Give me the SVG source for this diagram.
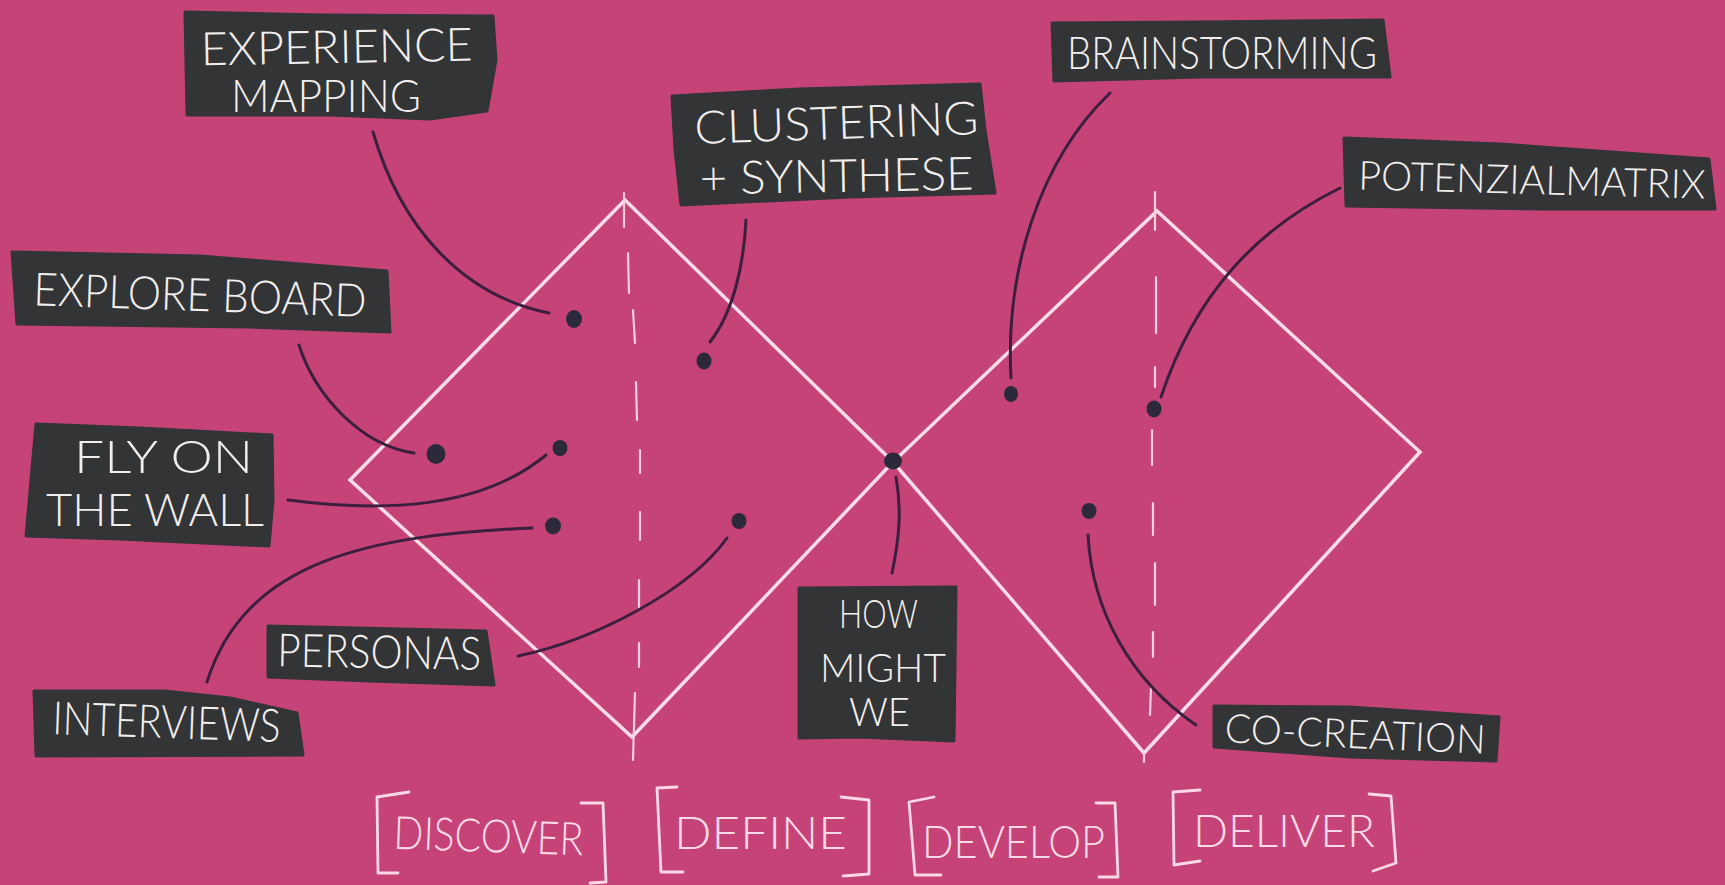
<svg xmlns="http://www.w3.org/2000/svg" width="1725" height="885" viewBox="0 0 1725 885">
<style>
.box{fill:#323435;stroke:#323435;stroke-width:3;stroke-linejoin:round}
.lbl{font-family:"Lato","Liberation Sans",sans-serif;font-weight:300;fill:#f2eeee;font-size:46px}
.sm{font-size:40px}
.ph{font-family:"Lato","Liberation Sans",sans-serif;font-weight:300;fill:#fbdbe7;font-size:46px}
.dia{fill:none;stroke:#fbdce8;stroke-width:3.5;stroke-linejoin:miter}
.dash{fill:none;stroke:#f8cfe0;stroke-width:2.2;stroke-linecap:round}
.brk{fill:none;stroke:#fbd8e5;stroke-width:2.8;stroke-linejoin:round;stroke-linecap:round}
.con{fill:none;stroke:#3c1f3e;stroke-width:3;stroke-linecap:round}
.dot{fill:#2c2a3a}
</style>
<rect width="1725" height="885" fill="#c64377"/>
<g id="diamonds">
<path class="dia" d="M625 200L893 462L632 737L350 480Z"/>
<path class="dia" d="M1157 211L1420 452L1144 753L893 462Z"/>
<path class="dash" d="M624 193V227M628 253L629 293M633 310L635 343M636 382L637 420M640 450V473M640 512V540M639 580V610M639 643V667M635 693L633 760"/>
<path class="dash" d="M1155 192V230M1156 277V333M1155 367V387M1152 430V465M1153 503V535M1155 563V605M1153 632V657M1151 687L1150 715M1144 753V762"/>
</g>
<g id="connectors">
<path class="con" d="M373 132C400 225 460 295 549 313"/>
<path class="con" d="M746 220C744 260 735 310 710 342"/>
<path class="con" d="M299 345C315 395 360 445 414 453"/>
<path class="con" d="M288 500C380 512 480 510 546 455"/>
<path class="con" d="M207 682C245 560 370 535 532 528"/>
<path class="con" d="M518 656C595 640 690 590 727 538"/>
<path class="con" d="M892 573C899 540 902 510 896 477"/>
<path class="con" d="M1110 93C1040 160 1005 270 1011 378"/>
<path class="con" d="M1340 188C1255 230 1195 295 1161 397"/>
<path class="con" d="M1088 535C1092 610 1130 680 1196 725"/>
</g>
<g id="dots">
<ellipse class="dot" cx="574" cy="319" rx="8" ry="9"/>
<ellipse class="dot" cx="704" cy="361" rx="7.5" ry="8.5"/>
<ellipse class="dot" cx="436" cy="454" rx="9.5" ry="10"/>
<ellipse class="dot" cx="560" cy="448" rx="7.5" ry="8"/>
<ellipse class="dot" cx="553" cy="526" rx="8" ry="8.5"/>
<ellipse class="dot" cx="739" cy="521" rx="7.5" ry="8"/>
<ellipse class="dot" cx="893" cy="461" rx="9" ry="8.5"/>
<ellipse class="dot" cx="1011" cy="394" rx="7" ry="8"/>
<ellipse class="dot" cx="1154" cy="409" rx="7.5" ry="8.5"/>
<ellipse class="dot" cx="1089" cy="511" rx="7.5" ry="8"/>
</g>
<g id="experience-mapping">
<path class="box" d="M185 12L320 15L493 16L496 60L487 111L430 119L330 115L187 115Z"/>
<text class="lbl" transform="rotate(-1 337 63)" x="201" y="63" textLength="272" lengthAdjust="spacingAndGlyphs">EXPERIENCE</text>
<text class="lbl" x="231" y="112" textLength="190" lengthAdjust="spacingAndGlyphs">MAPPING</text>
</g>
<g id="clustering-synthese">
<path class="box" d="M672 96L800 89L980 84L985 130L995 193L850 197L681 205L675 150Z"/>
<text class="lbl" transform="rotate(-2 837 139)" x="695" y="139" textLength="284" lengthAdjust="spacingAndGlyphs">CLUSTERING</text>
<text class="lbl" transform="rotate(-1 837 192)" x="700" y="192" textLength="274" lengthAdjust="spacingAndGlyphs">+ SYNTHESE</text>
</g>
<g id="explore-board">
<path class="box" d="M12 252L200 256L387 271L390 332L250 327L17 324Z"/>
<text class="lbl" transform="rotate(2 200 311)" x="33" y="311" textLength="333" lengthAdjust="spacingAndGlyphs">EXPLORE BOARD</text>
</g>
<g id="fly-on-the-wall">
<path class="box" d="M36 424L140 428L272 435L273 500L269 546L120 539L26 536L31 480Z"/>
<text class="lbl" x="74" y="473" textLength="179" lengthAdjust="spacingAndGlyphs">FLY ON</text>
<text class="lbl" x="46" y="526" textLength="218" lengthAdjust="spacingAndGlyphs">THE WALL</text>
</g>
<g id="interviews">
<path class="box" d="M34 691L165 691L230 698L297 713L303 755L36 756Z"/>
<text class="lbl" transform="rotate(2 166 738)" x="52" y="738" textLength="228" lengthAdjust="spacingAndGlyphs">INTERVIEWS</text>
</g>
<g id="personas">
<path class="box" d="M268 626L400 629L486 631L494 685L370 681L268 677Z"/>
<text class="lbl" transform="rotate(1 379 668)" x="277" y="668" textLength="204" lengthAdjust="spacingAndGlyphs">PERSONAS</text>
</g>
<g id="how-might-we">
<path class="box" d="M799 588L956 587L954 741L860 737L799 738Z"/>
<text class="lbl sm" x="839" y="628" textLength="79" lengthAdjust="spacingAndGlyphs">HOW</text>
<text class="lbl sm" x="820" y="682" textLength="126" lengthAdjust="spacingAndGlyphs">MIGHT</text>
<text class="lbl sm" x="849" y="726" textLength="61" lengthAdjust="spacingAndGlyphs">WE</text>
</g>
<g id="brainstorming">
<path class="box" d="M1052 23L1200 22L1383 20L1390 77L1200 77L1054 81Z"/>
<text class="lbl" x="1067" y="69" textLength="310" lengthAdjust="spacingAndGlyphs">BRAINSTORMING</text>
</g>
<g id="potenzialmatrix">
<path class="box" d="M1344 138L1500 144L1709 159L1715 209L1540 209L1346 206Z"/>
<text class="lbl sm" transform="rotate(1.5 1530 194)" x="1358" y="194" textLength="347" lengthAdjust="spacingAndGlyphs">POTENZIALMATRIX</text>
</g>
<g id="co-creation">
<path class="box" d="M1214 706L1350 707L1499 717L1496 761L1350 757L1214 747Z"/>
<text class="lbl sm" transform="rotate(2.5 1354 750)" x="1224" y="748" textLength="261" lengthAdjust="spacingAndGlyphs">CO-CREATION</text>
</g>
<g id="phases">
<path class="brk" d="M409 792L377 797L378 873L398 873"/>
<path class="brk" d="M581 803L603 803L606 882L590 883"/>
<text class="ph" transform="rotate(2 488 852)" x="393" y="852" textLength="190" lengthAdjust="spacingAndGlyphs">DISCOVER</text>
<path class="brk" d="M677 787L657 788L661 872L683 872"/>
<path class="brk" d="M841 797L869 800L869 874L843 876"/>
<text class="ph" x="674" y="849" textLength="173" lengthAdjust="spacingAndGlyphs">DEFINE</text>
<path class="brk" d="M934 797L909 802L915 875L941 875"/>
<path class="brk" d="M1096 803L1115 803L1118 877L1099 877"/>
<text class="ph" x="922" y="858" textLength="183" lengthAdjust="spacingAndGlyphs">DEVELOP</text>
<path class="brk" d="M1200 790L1173 792L1174 865L1200 861"/>
<path class="brk" d="M1369 794L1391 796L1396 863L1373 871"/>
<text class="ph" x="1193" y="847" textLength="182" lengthAdjust="spacingAndGlyphs">DELIVER</text>
</g>
</svg>
